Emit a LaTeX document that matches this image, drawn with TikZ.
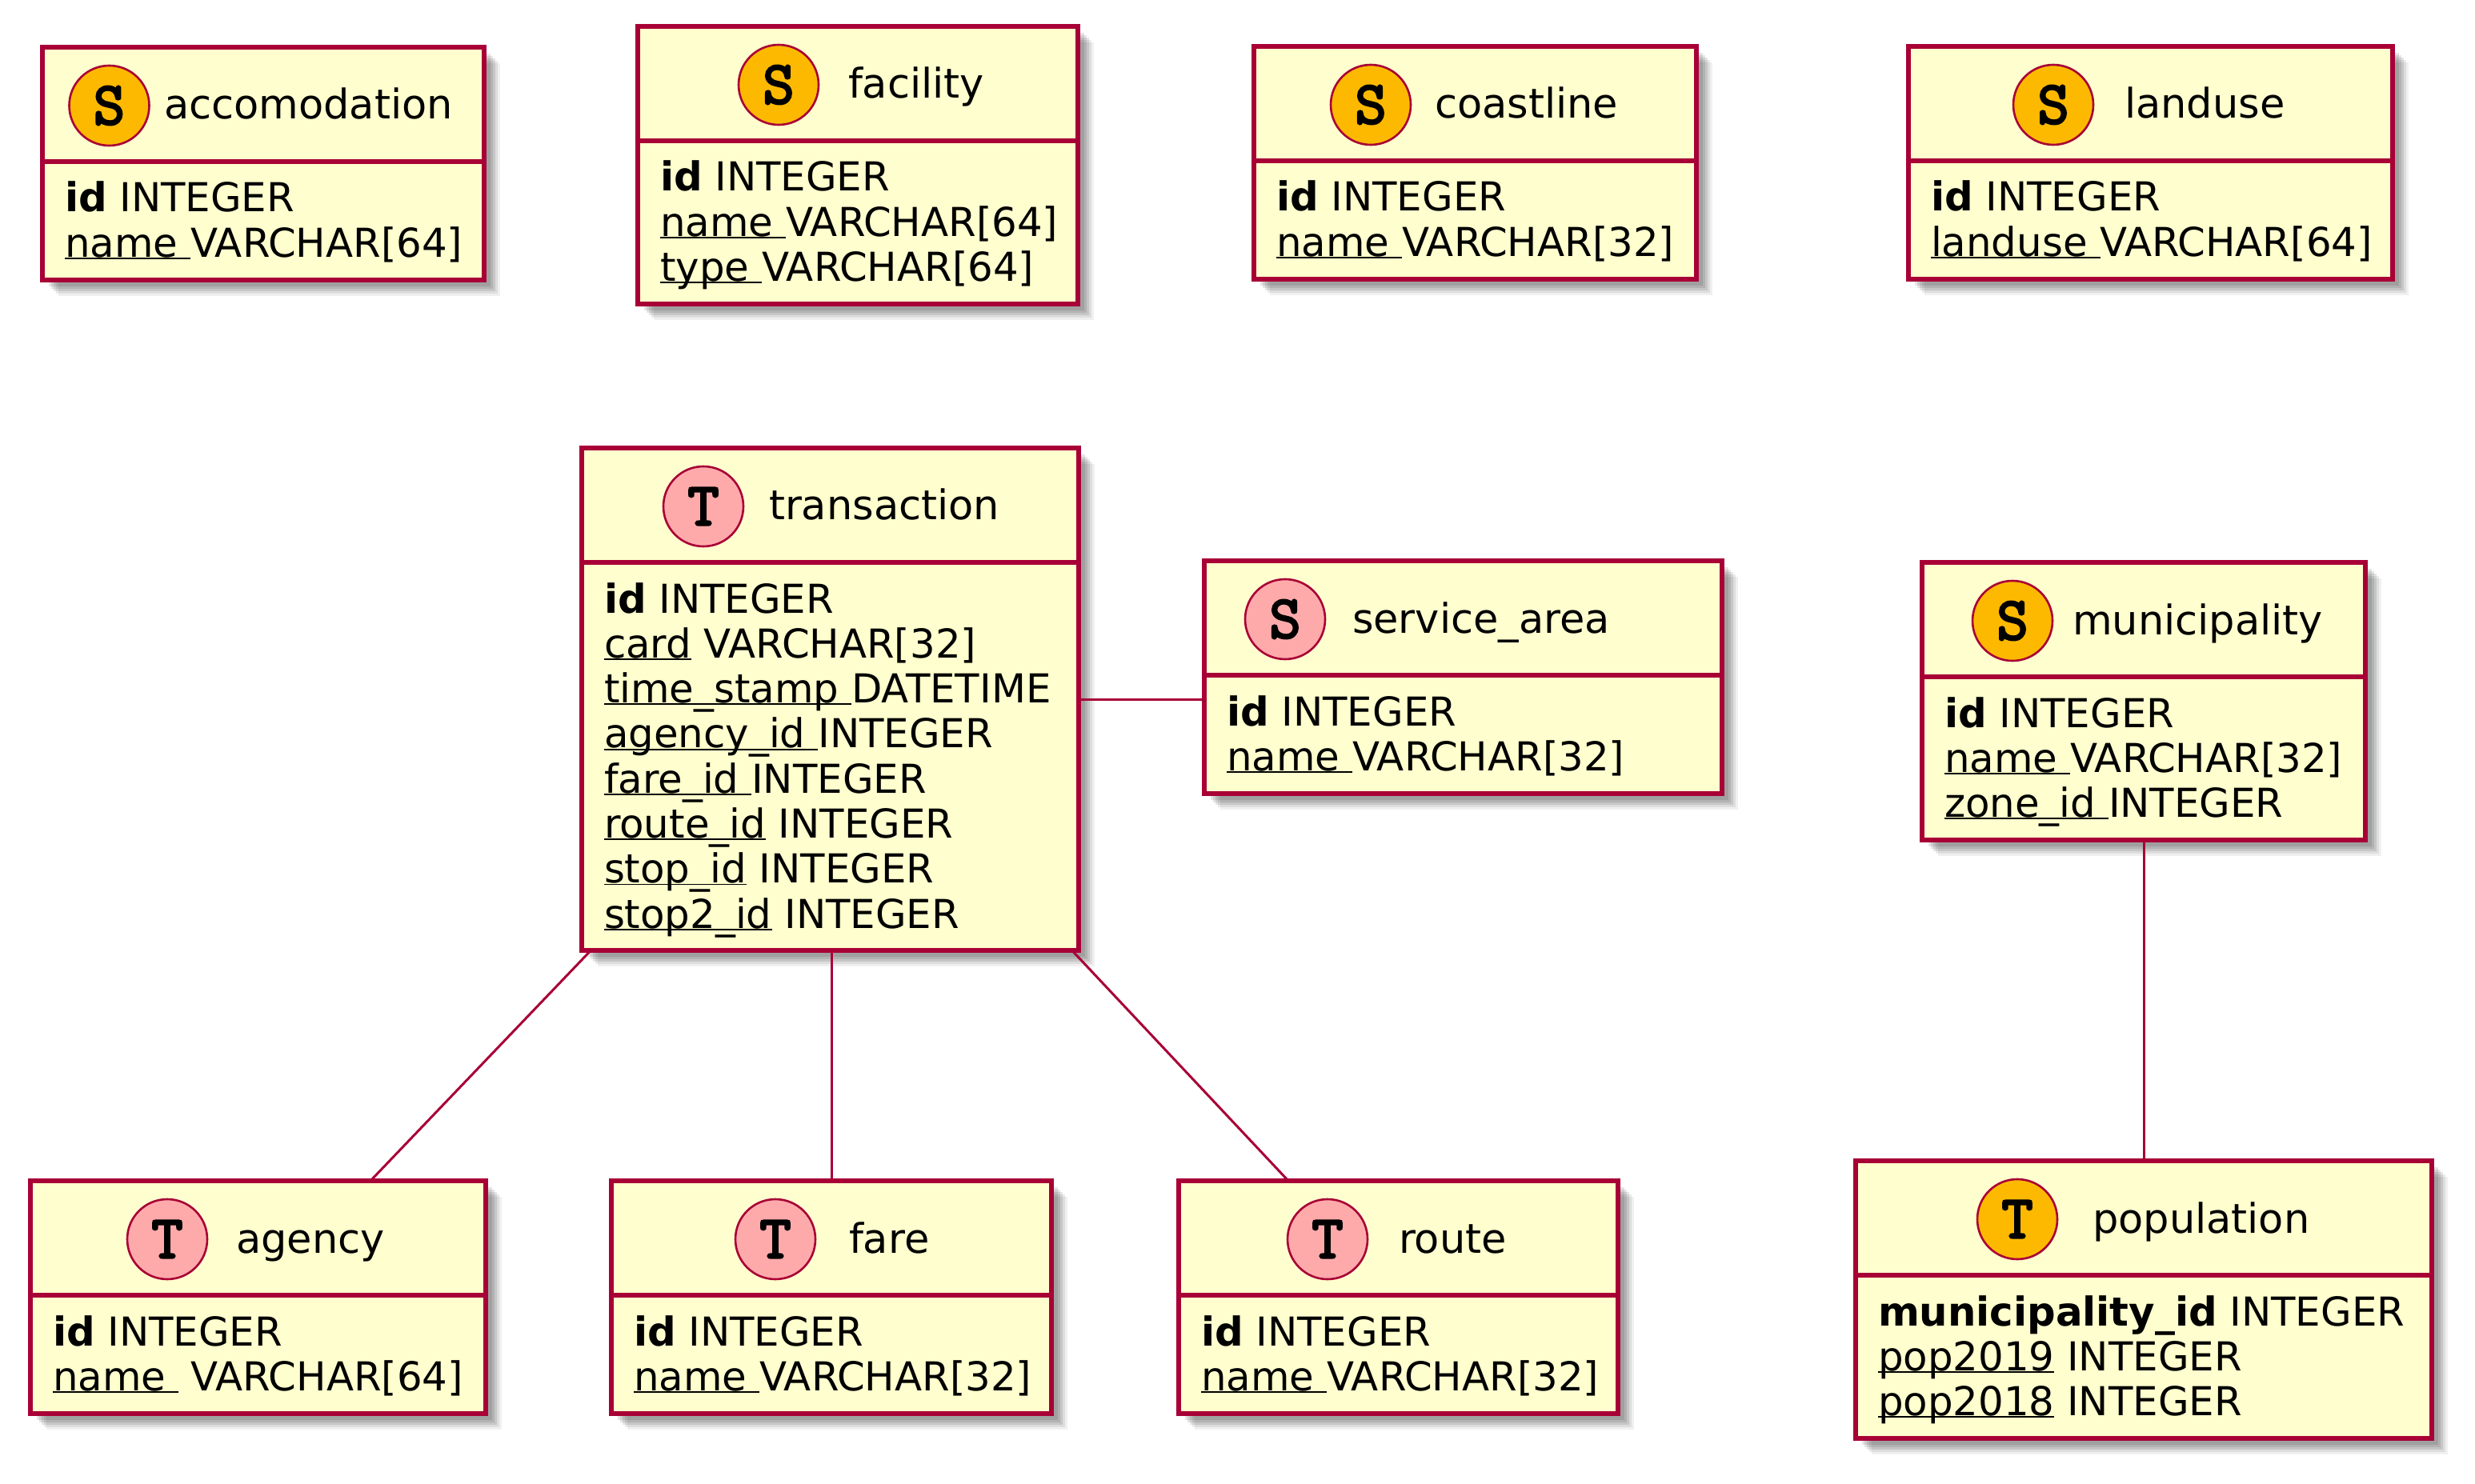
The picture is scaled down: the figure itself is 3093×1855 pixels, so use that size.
\documentclass[tikz,border=0pt]{standalone}
\usepackage{fontspec}
\setmainfont{DejaVu Sans}
\newfontfamily\spotfont{Latin Modern Mono}[FakeBold=3.5]
\usetikzlibrary{shadows,calc}
\definecolor{boxfill}{HTML}{FEFECE}
\definecolor{boxline}{HTML}{A80036}
\definecolor{spotS}{HTML}{FDB900}
\definecolor{spotT}{HTML}{FFAAAA}
\newcommand\uln[1]{\leavevmode\setbox0\hbox{#1}\rlap{\rule[-1.3pt]{\wd0}{0.9pt}}\box0\relax}
\tikzset{
  tbl/.style={rectangle, draw=boxline, fill=boxfill, line width=3pt, inner sep=0pt, outer sep=0pt, anchor=north west,
    drop shadow={shadow xshift=10pt, shadow yshift=-10pt, opacity=0.06, fill=black},
    drop shadow={shadow xshift=8.5pt, shadow yshift=-8.5pt, opacity=0.08, fill=black},
    drop shadow={shadow xshift=7pt, shadow yshift=-7pt, opacity=0.1, fill=black},
    drop shadow={shadow xshift=5.5pt, shadow yshift=-5.5pt, opacity=0.1, fill=black},
    drop shadow={shadow xshift=4pt, shadow yshift=-4pt, opacity=0.1, fill=black}},
  divl/.style={draw=boxline, line width=3pt},
  rel/.style={draw=boxline, line width=1.5pt},
  fieldtxt/.style={anchor=base west, inner sep=0pt, outer sep=0pt, font=\fontsize{24.9}{28}\selectfont},
  titletxt/.style={anchor=base west, inner sep=0pt, outer sep=0pt, font=\fontsize{25.5}{29}\selectfont},
  spot/.style={circle, draw=boxline, line width=1.3pt, minimum size=50pt, inner sep=0pt, font=\fontsize{38}{38}\selectfont\spotfont}
}
% #1 name, #2 x1, #3 y1, #4 x2, #5 nrows, #6 rows
\newcommand\erbox[6]{%
  \pgfmathsetmacro\bw{(#4-#2)*0.5}%
  \pgfmathsetmacro\bh{(178+56.3*#5)*0.5}%
  \node[tbl, minimum width=\bw pt, minimum height=\bh pt] (#1) at (#2,#3) {};
  \draw[divl] ($(#1.north west)+(0,143)$) -- ($(#1.north east)+(0,143)$);
  \foreach \rowtxt [count=\i] in {#6} {
    \pgfmathsetmacro\fy{#3+206+56.3*(\i-1)}
    \node[fieldtxt] (#1-f\i) at (#2+28,\fy) {\rowtxt};
  }
}
% #1 name, #2 top, #3 circle x, #4 text x, #5 colour, #6 letter, #7 title
\newcommand\ertitle[7]{%
  \node[spot, fill=#5] (#1-spot) at (#3,#2+73) {#6};
  \node[titletxt] (#1-title) at (#4,#2+90) {#7};
}
\begin{document}
\begin{tikzpicture}[x=0.5pt, y=-0.5pt]
\useasboundingbox (0,0) rectangle (3093,1855);

\erbox{acc}{53}{59}{605}{2}{{\textbf{id} INTEGER},{\uln{name }VARCHAR[64]}}
\ertitle{acc}{59}{136.5}{205}{spotS}{S}{accomodation}

\erbox{fac}{797}{33}{1347}{3}{{\textbf{id} INTEGER},{\uln{name }VARCHAR[64]},{\uln{type }VARCHAR[64]}}
\ertitle{fac}{33}{973}{1060}{spotS}{S}{facility}

\erbox{coast}{1567}{58}{2120}{2}{{\textbf{id} INTEGER},{\uln{name }VARCHAR[32]}}
\ertitle{coast}{58}{1713}{1793}{spotS}{S}{coastline}

\erbox{land}{2385}{58}{2990}{2}{{\textbf{id} INTEGER},{\uln{landuse }VARCHAR[64]}}
\ertitle{land}{58}{2566}{2655}{spotS}{S}{landuse}

\erbox{trans}{727}{560}{1348}{8}{{\textbf{id} INTEGER},{\uln{card} VARCHAR[32]},{\uln{time\_stamp }DATETIME},{\uln{agency\_id }INTEGER},{\uln{fare\_id }INTEGER},{\uln{route\_id} INTEGER},{\uln{stop\_id} INTEGER},{\uln{stop2\_id} INTEGER}}
\ertitle{trans}{560}{879}{961}{spotT}{T}{transaction}

\erbox{serv}{1505}{701}{2152}{2}{{\textbf{id} INTEGER},{\uln{name }VARCHAR[32]}}
\ertitle{serv}{701}{1606}{1690}{spotT}{S}{service\_area}

\erbox{munic}{2402}{703}{2956}{3}{{\textbf{id} INTEGER},{\uln{name }VARCHAR[32]},{\uln{zone\_id }INTEGER}}
\ertitle{munic}{703}{2515}{2590}{spotS}{S}{municipality}

\erbox{pop}{2319}{1451}{3039}{3}{{\textbf{municipality\_id} INTEGER},{\uln{pop2019} INTEGER},{\uln{pop2018} INTEGER}}
\ertitle{pop}{1451}{2521}{2615}{spotS}{T}{population}

\erbox{agency}{38}{1476}{607}{2}{{\textbf{id} INTEGER},{\uln{name } VARCHAR[64]}}
\ertitle{agency}{1476}{209}{295}{spotT}{T}{agency}

\erbox{fare}{764}{1476}{1314}{2}{{\textbf{id} INTEGER},{\uln{name }VARCHAR[32]}}
\ertitle{fare}{1476}{969}{1061}{spotT}{T}{fare}

\erbox{route}{1473}{1476}{2022}{2}{{\textbf{id} INTEGER},{\uln{name }VARCHAR[32]}}
\ertitle{route}{1476}{1659}{1748}{spotT}{T}{route}

\draw[rel] ($(trans.south west)+(11,0)$) -- ($(agency.north west)+(425,0)$);
\draw[rel] (fare.north |- trans.south) -- (fare.north);
\draw[rel] ($(trans.south east)+(-8,0)$) -- ($(route.north west)+(137,0)$);
\draw[rel] (trans.east) -- (trans.east -| serv.west);
\draw[rel] (munic.south) -- (munic.south |- pop.north);
\end{tikzpicture}
\end{document}
